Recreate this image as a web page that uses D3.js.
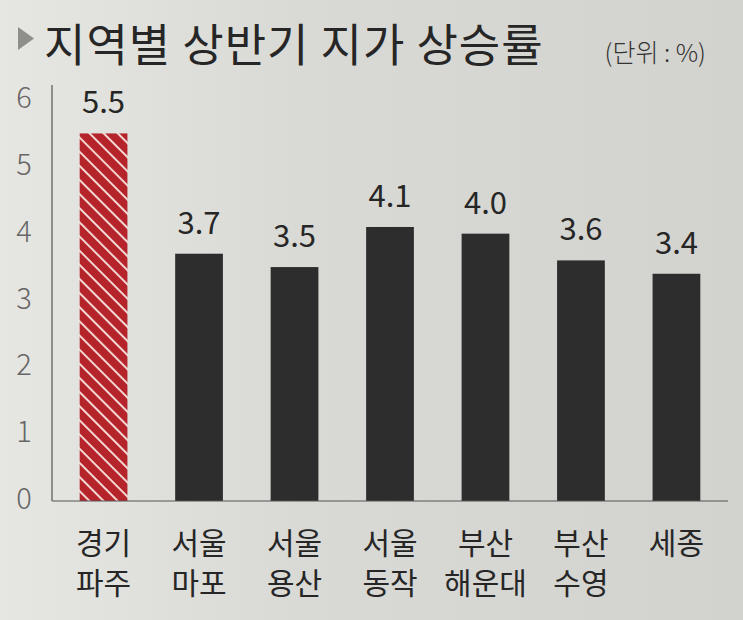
<!DOCTYPE html>
<html>
<head>
<meta charset="utf-8">
<script src="https://cdn.jsdelivr.net/npm/d3@7"></script>
<style>
  html, body { margin: 0; padding: 0; }
  body { background: #d6d6d2; }
</style>
</head>
<body>
<script>
// chart data
const regionTop = ["경기", "서울", "서울", "서울", "부산", "부산", "세종"];
const regionBottom = ["파주", "마포", "용산", "동작", "해운대", "수영", ""];
const rates = [5.5, 3.7, 3.5, 4.1, 4.0, 3.6, 3.4];
const yTicks = [0, 1, 2, 3, 4, 5, 6];

const width = 743, height = 620;
const margin = { top: 100, right: 15, bottom: 119, left: 52 };
const font = "'Noto Sans CJK KR', 'Noto Sans', sans-serif";

const svg = d3.select("body").append("svg")
  .attr("width", width)
  .attr("height", height);

// paper-like background, lighter on the left
const defs = svg.append("defs");
const bg = defs.append("linearGradient").attr("id", "paper")
  .attr("x1", "0").attr("x2", "1").attr("y1", "0").attr("y2", "0");
bg.append("stop").attr("offset", "0%").attr("stop-color", "#e6e6e2");
bg.append("stop").attr("offset", "40%").attr("stop-color", "#d9d9d5");
bg.append("stop").attr("offset", "100%").attr("stop-color", "#d2d2ce");

svg.append("rect").attr("width", width).attr("height", height).attr("fill", "url(#paper)");

// hatch for the highlighted bar, stripes running top-left to bottom-right
const hatch = defs.append("pattern").attr("id", "hatch")
  .attr("patternUnits", "userSpaceOnUse")
  .attr("width", 10).attr("height", 10)
  .attr("patternTransform", "rotate(45)");
hatch.append("rect").attr("width", 10).attr("height", 10).attr("fill", "#b5242a");
hatch.append("rect").attr("x", 0).attr("y", 0).attr("width", 10).attr("height", 2).attr("fill", "#f2d6d2");

const x = d3.scaleBand()
  .domain(d3.range(rates.length))
  .range([margin.left, width - margin.right])
  .paddingInner(0.5)
  .paddingOuter(0.29);

const y = d3.scaleLinear()
  .domain([0, 6])
  .range([height - margin.bottom, margin.top]);

// title
svg.append("path")
  .attr("d", "M18,27 L34,38.5 L18,50 Z")
  .attr("fill", "#8e8e8a");

svg.append("text")
  .attr("x", 44).attr("y", 62)
  .style("font-family", font)
  .style("font-size", "45px")
  .style("font-weight", 400)
  .style("letter-spacing", "1px")
  .style("fill", "#262626")
  .text("지역별 상반기 지가 상승률");

svg.append("text")
  .attr("x", 706).attr("y", 62)
  .attr("text-anchor", "end")
  .style("font-family", font)
  .style("font-size", "25px")
  .style("font-weight", 300)
  .style("fill", "#333")
  .text("(단위 : %)");

// y axis
svg.append("line")
  .attr("x1", margin.left).attr("x2", margin.left)
  .attr("y1", 85).attr("y2", y(0))
  .attr("stroke", "#555").attr("stroke-width", 1.2);

svg.append("g").selectAll("text")
  .data(yTicks)
  .enter()
  .append("text")
  .attr("x", 24)
  .attr("y", d => y(d) + 8)
  .attr("text-anchor", "middle")
  .style("font-family", font)
  .style("font-size", "29px")
  .style("font-weight", 300)
  .style("fill", "#666")
  .text(d => d);

// bars
svg.append("g").selectAll("rect")
  .data(rates)
  .enter()
  .append("rect")
  .attr("x", (d, i) => x(i))
  .attr("width", x.bandwidth())
  .attr("y", d => y(d))
  .attr("height", d => y(0) - y(d))
  .attr("fill", (d, i) => i === 0 ? "url(#hatch)" : "#2d2d2d");

// baseline
svg.append("line")
  .attr("x1", margin.left).attr("x2", width - margin.right)
  .attr("y1", y(0)).attr("y2", y(0))
  .attr("stroke", "#555").attr("stroke-width", 1.2);

// value labels
svg.append("g").selectAll("text")
  .data(rates)
  .enter()
  .append("text")
  .attr("x", (d, i) => x(i) + x.bandwidth() / 2)
  .attr("y", d => y(d) - 20)
  .attr("text-anchor", "middle")
  .style("font-family", font)
  .style("font-size", "31px")
  .style("fill", "#262626")
  .text(d => d.toFixed(1));

// category labels, two separate lines
function catLine(labels, yPos) {
  svg.append("g").selectAll("text")
    .data(labels)
    .enter()
    .append("text")
    .attr("x", (d, i) => x(i) + x.bandwidth() / 2)
    .attr("y", yPos)
    .attr("text-anchor", "middle")
    .style("font-family", font)
    .style("font-size", "30px")
    .style("fill", "#262626")
    .text(d => d);
}
catLine(regionTop, 554);
catLine(regionBottom, 594);
</script>
</body>
</html>
